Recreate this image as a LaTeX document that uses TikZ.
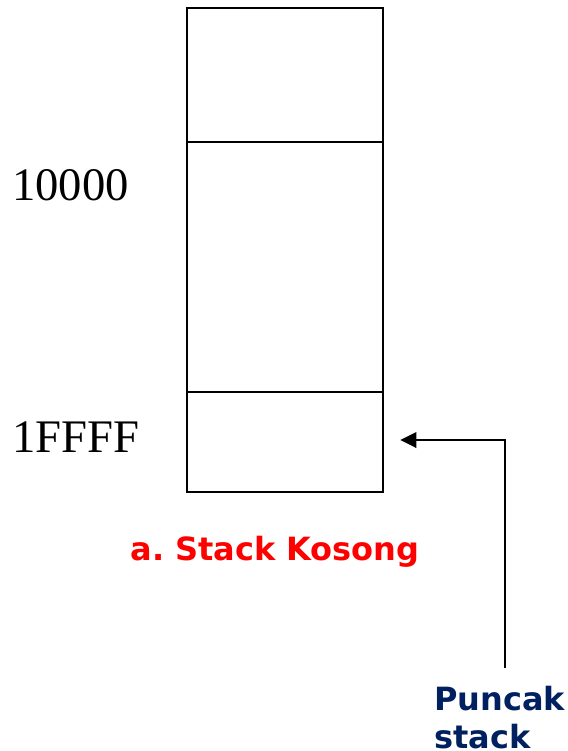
\documentclass[tikz,border=0pt]{standalone}
\usepackage{fontspec}
\setmainfont{Liberation Serif}
\setsansfont{DejaVu Sans}
\usetikzlibrary{positioning}
\usetikzlibrary{arrows.meta}
\definecolor{judulmerah}{RGB}{255,0,0}
\definecolor{birutua}{RGB}{0,32,96}
\frenchspacing
\tikzset{
  sel/.style={draw, line width=2pt, inner sep=0pt, outer sep=0pt, minimum width=147pt},
  alamat/.style={inner sep=0pt, anchor=west, font=\fontsize{35}{40}\selectfont},
  label/.style={inner sep=0pt, font=\sffamily\bfseries\fontsize{24}{28.5}\selectfont}
}

\begin{document}
\begin{tikzpicture}[x=0.75pt, y=-0.75pt]
                \useasboundingbox (0,0) rectangle (568,751);
                \node[sel, minimum height=100.5pt] (selatas) at (285,75) {};
                \node[sel, minimum height=187.5pt, below=0pt of selatas] (seltengah) {};
                \node[sel, minimum height=75pt, below=0pt of seltengah] (selbawah) {};
                \node[alamat] (a10000) at (12,185) {10000};
                \node[alamat] (a1ffff) at (12,437) {1FFFF};
                \node[label, text=judulmerah, anchor=base] (judul) at (275,560) {a. Stack Kosong};
                \node[label, text=birutua, align=left, anchor=north west] (puncak) at (434,686) {Puncak\\stack};
                \coordinate (ekor) at (505,668);
                \draw[line width=2pt, -{Triangle[length=12pt, width=11.5pt]}] (ekor) |- ([xshift=13pt, yshift=1.5pt]selbawah.east);
            \end{tikzpicture}
\end{document}
